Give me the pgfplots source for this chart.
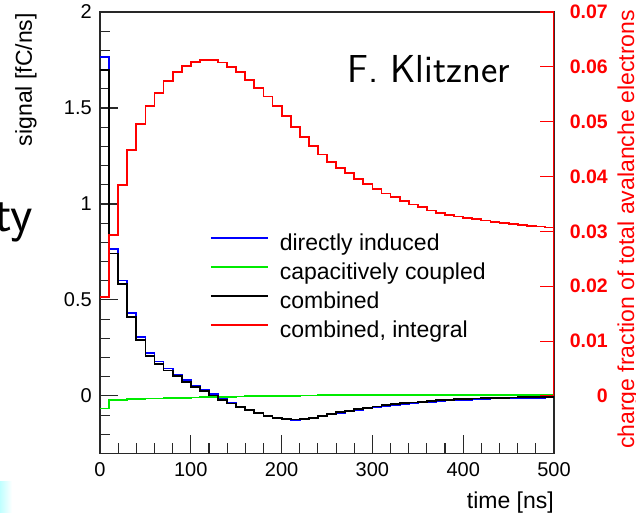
\documentclass[border=0pt]{standalone}
\usepackage{fontspec}
\setmainfont{Liberation Sans}
\usepackage{pgfplots}
\usepackage{pgfplotstable}
\pgfplotsset{compat=1.18}

\definecolor{hblue}{RGB}{0,0,255}
\definecolor{hgreen}{RGB}{0,235,0}
\definecolor{hred}{RGB}{255,0,0}
\definecolor{framegray}{RGB}{40,40,40}

% 10 ns bins: left edge, directly induced, capacitively coupled, combined, integral
\pgfplotstableread{
t   direct  capac   combined integral
0    1.764  -0.066   1.698   0.0180
10   0.764  -0.022   0.742   0.0294
20   0.601  -0.020   0.581   0.0385
30   0.430  -0.018   0.412   0.0449
40   0.306  -0.016   0.290   0.0496
50   0.224  -0.014   0.210   0.0528
60   0.179  -0.013   0.166   0.0553
70   0.143  -0.011   0.132   0.0574
80   0.112  -0.010   0.102   0.0591
90   0.081  -0.009   0.072   0.0602
100  0.054  -0.008   0.046   0.0609
110  0.031  -0.007   0.024   0.0613
120  0.008  -0.006   0.002   0.0612
130 -0.015  -0.005  -0.020   0.0608
140 -0.036  -0.004  -0.040   0.0600
150 -0.055  -0.003  -0.058   0.0591
160 -0.072  -0.002  -0.074   0.0576
170 -0.089  -0.001  -0.090   0.0561
180 -0.103   0.000  -0.103   0.0546
190 -0.113   0.000  -0.113   0.0528
200 -0.121   0.001  -0.120   0.0511
210 -0.124   0.001  -0.123   0.0491
220 -0.123   0.002  -0.121   0.0472
230 -0.116   0.002  -0.114   0.0455
240 -0.107   0.003  -0.104   0.0440
250 -0.097   0.003  -0.094   0.0426
260 -0.088   0.003  -0.085   0.0415
270 -0.080   0.003  -0.077   0.0406
280 -0.072   0.003  -0.069   0.0395
290 -0.065   0.003  -0.062   0.0386
300 -0.058   0.003  -0.055   0.0377
310 -0.052   0.003  -0.049   0.0369
320 -0.046   0.003  -0.043   0.0362
330 -0.041   0.003  -0.038   0.0355
340 -0.037   0.003  -0.034   0.0349
350 -0.034   0.004  -0.030   0.0344
360 -0.030   0.004  -0.026   0.0338
370 -0.027   0.004  -0.023   0.0334
380 -0.024   0.004  -0.020   0.0330
390 -0.022   0.004  -0.018   0.0327
400 -0.020   0.004  -0.016   0.0324
410 -0.018   0.004  -0.014   0.0322
420 -0.016   0.004  -0.012   0.0320
430 -0.014   0.004  -0.010   0.0317
440 -0.013   0.004  -0.009   0.0315
450 -0.012   0.004  -0.008   0.0314
460 -0.011   0.004  -0.007   0.0312
470 -0.010   0.004  -0.006   0.0310
480 -0.009   0.004  -0.005   0.0309
490 -0.008   0.004  -0.004   0.0307
500 -0.008   0.004  -0.004   0.0307
}\histdata

\newcommand{\ticksize}{\fontsize{20}{24}\selectfont}
\newcommand{\titlesize}{\fontsize{23}{27}\selectfont}

\begin{document}
\begin{tikzpicture}
\useasboundingbox (0pt,0pt) rectangle (636pt,513pt);
\clip (0pt,0pt) rectangle (636pt,513pt);

% signal histograms, left axis
\begin{axis}[
  at={(100pt,59.5pt)}, anchor=south west,
  width=454pt, height=441.5pt, scale only axis,
  xmin=0, xmax=500, ymin=-0.3, ymax=2,
  axis line style={framegray, line width=1.1pt},
  tick style={framegray, line width=1.1pt},
  tick align=inside,
  xtick pos=bottom, ytick pos=left,
  major tick length=18pt, minor tick length=10pt,
  xtick={0,100,200,300,400,500},
  xticklabels={0,100,200,300,400,500},
  minor xtick={20,40,60,80,120,140,160,180,220,240,260,280,320,340,360,380,420,440,460,480},
  ytick={0,0.5,1,1.5,2},
  yticklabels={0,0.5,1,1.5,2},
  minor ytick={-0.2,-0.1,0.1,0.2,0.3,0.4,0.6,0.7,0.8,0.9,1.1,1.2,1.3,1.4,1.6,1.7,1.8,1.9},
  xticklabel style={font=\ticksize, anchor=north, inner sep=0pt, yshift=-9pt},
  yticklabel style={font=\ticksize, anchor=east, inner sep=0pt, xshift=-8pt},
  legend cell align=left,
  legend image code/.code={\draw[#1] (0pt,7pt) -- (57pt,7pt);},
  legend style={at={(0.2423,0.4972)}, anchor=north west, draw=none, fill=none,
    inner sep=0pt, outer sep=0pt, font=\titlesize,
    row sep=7pt, column sep=11pt,
    nodes={inner sep=0pt, text height=17pt, text depth=5pt}},
]
\addplot[const plot, hblue, line width=1.8pt] table[x=t, y=direct]{\histdata};
\addlegendentry{directly induced}
\addplot[const plot, hgreen, line width=1.8pt] table[x=t, y=capac]{\histdata};
\addlegendentry{capacitively coupled}
\addplot[const plot, black, line width=1.8pt] table[x=t, y=combined]{\histdata};
\addlegendentry{combined}
\addlegendimage{hred, line width=1.8pt}
\addlegendentry{combined, integral}
\end{axis}

% running integral, right axis
\begin{axis}[
  at={(100pt,59.5pt)}, anchor=south west,
  width=454pt, height=441.5pt, scale only axis,
  xmin=0, xmax=500, ymin=-0.0105, ymax=0.07,
  hide x axis,
  axis y line*=right,
  y axis line style={draw=none},
  tick align=inside,
  ytick style={hred, line width=1.1pt},
  major tick length=14pt,
  ytick={0,0.01,0.02,0.03,0.04,0.05,0.06,0.07},
  yticklabels={0,0.01,0.02,0.03,0.04,0.05,0.06,0.07},
  yticklabel style={font=\bfseries\fontsize{19.5}{23}\selectfont, text=hred,
    anchor=east, inner sep=0pt, xshift=54pt},
]
\addplot[const plot, hred, line width=1.8pt] table[x=t, y=integral]{\histdata};
\draw[hred, line width=1.1pt] (axis cs:500,0) -- (axis cs:500,0.07);
\end{axis}

% titles and slide text
\node[rotate=90, anchor=base east, inner sep=0pt, font=\titlesize] at (32pt,500pt) {signal [fC/ns]};
\node[anchor=base east, inner sep=0pt, font=\titlesize] at (554pt,5pt) {time [ns]};
\node[rotate=90, anchor=base east, inner sep=0pt, font=\titlesize, text=hred] at (634pt,503pt) {charge fraction of total avalanche electrons};
\node[anchor=base west, inner sep=0pt, font=\sffamily\fontsize{39}{44}\selectfont] at (347pt,430.3pt) {F. Klitzner};
\node[anchor=base east, inner sep=0pt, font=\sffamily\fontsize{52}{60}\selectfont] at (33pt,281pt) {ty};
\shade[left color=cyan!25, right color=white] (0pt,0pt) rectangle (12pt,31pt);
\end{tikzpicture}
\end{document}
